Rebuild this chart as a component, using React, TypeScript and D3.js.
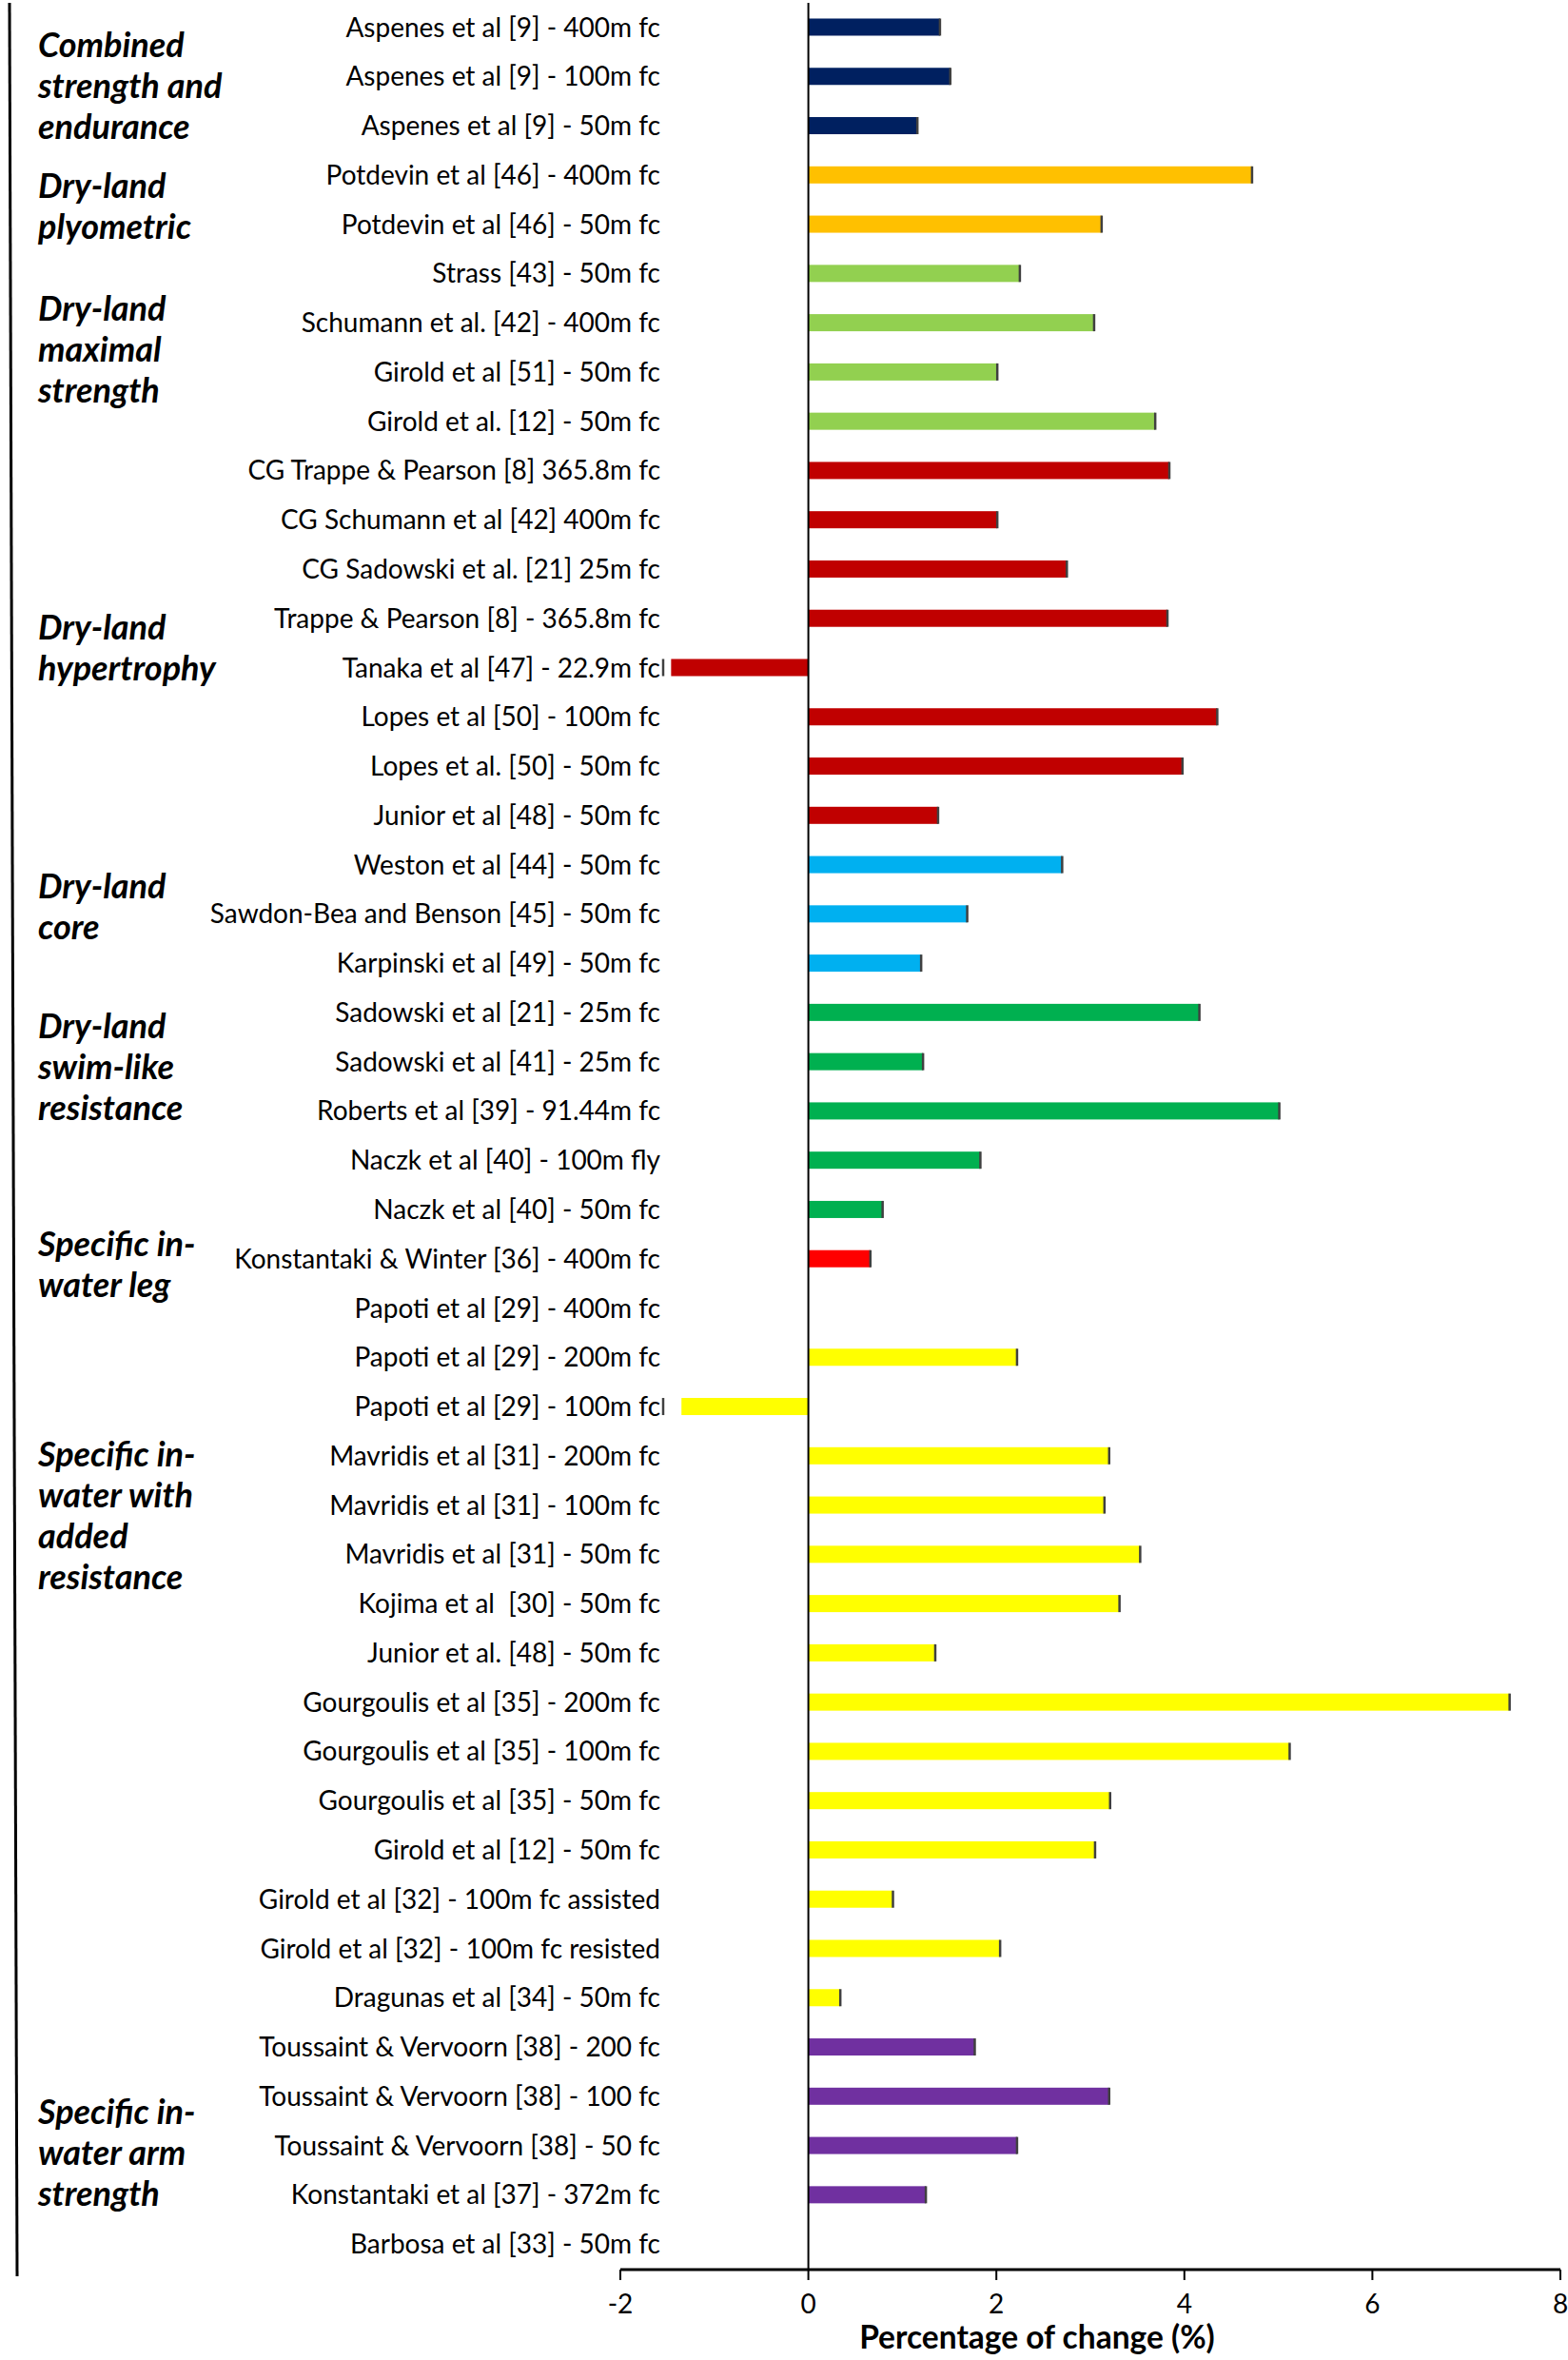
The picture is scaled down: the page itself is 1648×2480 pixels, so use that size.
import React, { useEffect } from "react";
import * as d3 from "d3";

// ---------- data ----------
const studies: string[] = [
  "Aspenes et al [9] - 400m fc",
  "Aspenes et al [9] - 100m fc",
  "Aspenes et al [9] - 50m fc",
  "Potdevin et al [46] - 400m fc",
  "Potdevin et al [46] - 50m fc",
  "Strass [43] - 50m fc",
  "Schumann et al. [42] - 400m fc",
  "Girold et al [51] - 50m fc",
  "Girold et al. [12] - 50m fc",
  "CG Trappe & Pearson [8] 365.8m fc",
  "CG Schumann et al [42] 400m fc",
  "CG Sadowski et al. [21] 25m fc",
  "Trappe & Pearson [8] - 365.8m fc",
  "Tanaka et al [47] - 22.9m fc",
  "Lopes et al [50] - 100m fc",
  "Lopes et al. [50] - 50m fc",
  "Junior et al [48] - 50m fc",
  "Weston et al [44] - 50m fc",
  "Sawdon-Bea and Benson [45] - 50m fc",
  "Karpinski et al [49] - 50m fc",
  "Sadowski et al [21] - 25m fc",
  "Sadowski et al [41] - 25m fc",
  "Roberts et al [39] - 91.44m fc",
  "Naczk et al [40] - 100m fly",
  "Naczk et al [40] - 50m fc",
  "Konstantaki & Winter [36] - 400m fc",
  "Papoti et al [29] - 400m fc",
  "Papoti et al [29] - 200m fc",
  "Papoti et al [29] - 100m fc",
  "Mavridis et al [31] - 200m fc",
  "Mavridis et al [31] - 100m fc",
  "Mavridis et al [31] - 50m fc",
  "Kojima et al  [30] - 50m fc",
  "Junior et al. [48] - 50m fc",
  "Gourgoulis et al [35] - 200m fc",
  "Gourgoulis et al [35] - 100m fc",
  "Gourgoulis et al [35] - 50m fc",
  "Girold et al [12] - 50m fc",
  "Girold et al [32] - 100m fc assisted",
  "Girold et al [32] - 100m fc resisted",
  "Dragunas et al [34] - 50m fc",
  "Toussaint & Vervoorn [38] - 200 fc",
  "Toussaint & Vervoorn [38] - 100 fc",
  "Toussaint & Vervoorn [38] - 50 fc",
  "Konstantaki et al [37] - 372m fc",
  "Barbosa et al [33] - 50m fc",
];

const changes: number[] = [
  1.4, 1.51, 1.16,
  4.72, 3.12,
  2.25, 3.04, 2.01, 3.69,
  3.84, 2.01, 2.75, 3.82, -1.46, 4.35, 3.98, 1.38,
  2.7, 1.69, 1.2,
  4.16, 1.22, 5.01, 1.83, 0.79,
  0.66,
  0, 2.22, -1.35, 3.2, 3.15, 3.53, 3.31, 1.35, 7.46, 5.12, 3.21, 3.05, 0.9, 2.04, 0.34,
  1.77, 3.2, 2.22, 1.25, 0,
];

const groupNames: string[][] = [
  ["Combined", "strength and", "endurance"],
  ["Dry-land", "plyometric"],
  ["Dry-land", "maximal", "strength"],
  ["Dry-land", "hypertrophy"],
  ["Dry-land", "core"],
  ["Dry-land", "swim-like", "resistance"],
  ["Specific in-", "water leg"],
  ["Specific in-", "water with", "added", "resistance"],
  ["Specific in-", "water arm", "strength"],
];

const groupSizes: number[] = [3, 2, 4, 8, 3, 5, 1, 15, 5];

const groupColors: string[] = [
  "#002060",
  "#FFC000",
  "#92D050",
  "#C00000",
  "#00B0F0",
  "#00B050",
  "#FF0000",
  "#FFFF00",
  "#7030A0",
];

const xTicks: number[] = [-2, 0, 2, 4, 6, 8];
const xTitle = "Percentage of change (%)";

// layout: row (fractional index) on which each group label is centred
const labelAnchorRow: number[] = [1.19, 3.64, 6.54, 12.59, 17.84, 21.11, 25.11, 30.22, 43.14];

const W = 1648;
const H = 2480;
const FONT = "Lato, 'Open Sans', sans-serif";

export default function App() {
  useEffect(() => {
    document.body.style.margin = "0";
  }, []);

  const x = d3.scaleLinear().domain([-2, 8]).range([652, 1640]);
  const y = d3
    .scaleBand<number>()
    .domain(d3.range(studies.length))
    .range([2.6, 2384])
    .padding(0);
  const bw = y.bandwidth();
  const rc = (i: number) => (y(i) as number) + bw / 2;
  const rowPos = (r: number) => 2.6 + bw * (r + 0.5);

  const groupOf: number[] = [];
  groupSizes.forEach((n, g) => {
    for (let k = 0; k < n; k++) groupOf.push(g);
  });
  const starts = d3.cumsum([0, ...groupSizes]);

  const barH = 18;
  const axisY = 2385;
  const lineSpacing = 43;

  // bracket line (slightly slanted as in the original)
  const bTop = 3;
  const bBot = 2392;
  const bxTop = 10;
  const bxBot = 18;
  const bx = (yy: number) => bxTop + ((yy - bTop) / (bBot - bTop)) * (bxBot - bxTop);
  const bracketTicks = starts.slice(0, starts.length - 1).map((s) => rowPos(s - 0.5));

  return (
    <svg
      width={W}
      height={H}
      viewBox={`0 0 ${W} ${H}`}
      style={{ position: "absolute", left: 0, top: 0, background: "#fff" }}
    >
      <rect x={0} y={0} width={W} height={H} fill="#fff" />

      {/* bracket */}
      <line x1={bxTop} y1={bTop} x2={bxBot} y2={bBot} stroke="#000" strokeWidth={3} />
      {bracketTicks.map((t, i) => (
        <line key={"bt" + i} x1={bx(t) - 9} x2={bx(t) + 9} y1={t} y2={t} stroke="#000" strokeWidth={3} />
      ))}

      {/* group labels */}
      {groupNames.map((lines, g) => {
        const cy = rowPos(labelAnchorRow[g]);
        const y0 = cy - ((lines.length - 1) * lineSpacing) / 2;
        return (
          <text
            key={"g" + g}
            x={40}
            fontFamily={FONT}
            fontWeight={700}
            fontStyle="italic"
            fontSize={36}
            fill="#000"
          >
            {lines.map((l, k) => (
              <tspan key={k} x={40} y={y0 + k * lineSpacing} dy="0.36em">
                {l}
              </tspan>
            ))}
          </text>
        );
      })}

      {/* row labels */}
      {studies.map((s, i) => (
        <text
          key={"l" + i}
          x={694}
          y={rc(i)}
          dy="0.36em"
          textAnchor="end"
          fontFamily={FONT}
          fontSize={28}
          fill="#000"
          style={{ whiteSpace: "pre" }}
        >
          {s}
        </text>
      ))}

      {/* bars */}
      {changes.map((v, i) => {
        if (v === 0) return null;
        const x0 = x(Math.min(0, v));
        const x1 = x(Math.max(0, v));
        const yy = rc(i) - barH / 2;
        const capX = v > 0 ? x1 : 697;
        return (
          <g key={"b" + i}>
            <rect x={x0} y={yy} width={x1 - x0} height={barH} fill={groupColors[groupOf[i]]} />
            <line x1={capX} x2={capX} y1={yy} y2={yy + barH} stroke="#404040" strokeWidth={2.5} />
          </g>
        );
      })}

      {/* zero line */}
      <line x1={x(0)} x2={x(0)} y1={3} y2={axisY} stroke="#000" strokeWidth={2} />

      {/* x axis */}
      <line x1={x(-2)} x2={x(8)} y1={axisY} y2={axisY} stroke="#000" strokeWidth={3} />
      {xTicks.map((t) => (
        <g key={"t" + t}>
          <line x1={x(t)} x2={x(t)} y1={axisY} y2={axisY + 11} stroke="#000" strokeWidth={2} />
          <text
            x={x(t)}
            y={2421}
            dy="0.36em"
            textAnchor="middle"
            fontFamily={FONT}
            fontSize={28}
            fill="#000"
          >
            {t}
          </text>
        </g>
      ))}
      <text
        x={1090}
        y={2456}
        dy="0.36em"
        textAnchor="middle"
        fontFamily={FONT}
        fontWeight={700}
        fontSize={33.5}
        fill="#000"
      >
        {xTitle}
      </text>
    </svg>
  );
}
